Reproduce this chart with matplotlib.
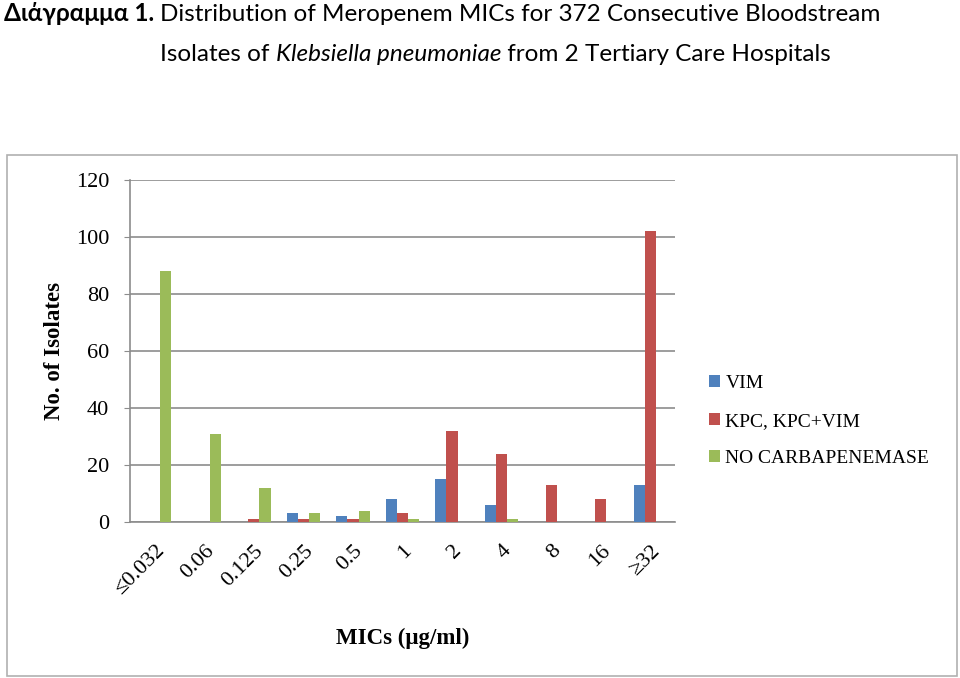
import numpy as np
import matplotlib.pyplot as plt
from matplotlib.patches import Rectangle

# MIC categories and counts per group
mics = ['≤0.032', '0.06', '0.125', '0.25', '0.5', '1', '2', '4', '8', '16', '≥32']
vim = [0, 0, 0, 3, 2, 8, 15, 6, 0, 0, 13]
kpc = [0, 0, 1, 1, 1, 3, 32, 24, 13, 8, 102]
no_carb = [88, 31, 12, 3, 4, 1, 0, 1, 0, 0, 0]
series_names = ['VIM', 'KPC, KPC+VIM', 'NO CARBAPENEMASE']
colors = ['#4F81BD', '#C0504D', '#9BBB59']

serif = ['Liberation Serif', 'DejaVu Serif']
sans = ['Lato', 'DejaVu Sans']

fig = plt.figure(figsize=(9.6, 6.78), dpi=100)

# light frame around the chart area (like an embedded Excel chart)
fig.patches.append(Rectangle((7 / 960, 2 / 678), 950 / 960, 521 / 678,
                             transform=fig.transFigure, fill=False,
                             edgecolor='#b0b0b0', linewidth=1.2))

ax = fig.add_axes([130 / 960, 156 / 678, 545 / 960, 342 / 678])

x = np.arange(len(mics))
w = 0.225
for i, (vals, name) in enumerate(zip([vim, kpc, no_carb], series_names)):
    ax.bar(x + (i - 1) * w, vals, width=w, color=colors[i], label=name, zorder=3)

ax.set_xlim(-0.5, len(mics) - 0.5)
ax.set_ylim(0, 120)
ax.set_yticks(range(0, 121, 20))
ax.yaxis.grid(True, color='#8c8c8c', linewidth=1.2, zorder=0)
for s in ['top', 'right']:
    ax.spines[s].set_visible(False)
ax.spines['left'].set_color('#8c8c8c')
ax.spines['bottom'].set_color('#8c8c8c')
ax.spines['left'].set_linewidth(1.2)
ax.spines['bottom'].set_linewidth(1.2)
ax.tick_params(axis='y', length=4, color='#8c8c8c', pad=11)
ax.tick_params(axis='x', length=0, pad=14)

ax.set_xticks(x)
ax.set_xticklabels(mics, rotation=45, ha='right', rotation_mode='anchor',
                   family=serif, fontsize=16)
for lab in ax.get_yticklabels():
    lab.set_family(serif)
    lab.set_fontsize(16)

ax.set_ylabel('No. of Isolates', family=serif, fontsize=16.5, fontweight='bold', labelpad=8)
ax.set_xlabel('MICs (μg/ml)', family=serif, fontsize=16.5, fontweight='bold', labelpad=21)

ax.legend(loc='center left', bbox_to_anchor=(1.03, 0.295), frameon=False,
          prop={'family': serif, 'size': 14}, handlelength=0.55, handleheight=0.6,
          handletextpad=0.3, labelspacing=1.05)

# title built from pieces so bold / italic parts sit inline
renderer = fig.canvas.get_renderer()


def write_parts(parts, x0, y0):
    xpos = x0
    for txt, kw in parts:
        t = fig.text(xpos, y0, txt, fontsize=17.5, family=sans, va='baseline', **kw)
        bb = t.get_window_extent(renderer=renderer)
        xpos += bb.width / fig.bbox.width


write_parts([('Διάγραμμα 1. ', {'fontweight': 'bold'}),
             ('Distribution of Meropenem MICs for 372 Consecutive Bloodstream', {})],
            4 / 960, 1 - 21 / 678)
write_parts([('Isolates of ', {}),
             ('Klebsiella pneumoniae', {'style': 'italic'}),
             (' from 2 Tertiary Care Hospitals', {})],
            160 / 960, 1 - 61 / 678)

fig.savefig('out.png', dpi=100)
